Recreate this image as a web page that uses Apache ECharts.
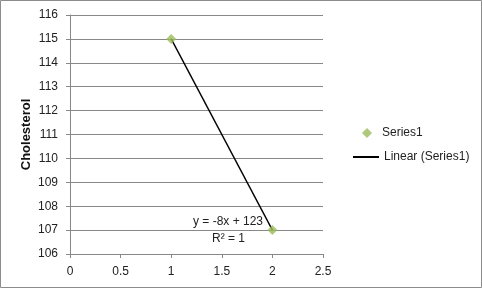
<!DOCTYPE html>
<html><head><meta charset="utf-8">
<script src="https://cdn.jsdelivr.net/npm/echarts@6/dist/echarts.min.js"></script>
<style>html,body{margin:0;padding:0;background:#fff}#c{width:482px;height:288px}</style>
</head><body><div id="c"></div>
<script>
const xValues = [1, 2];
const yValues = [115, 107];
const trendX = [1, 2];
const trendY = [115, 107];
const equationText = 'y = -8x + 123';
const r2Text = 'R² = 1';

const chart = echarts.init(document.getElementById('c'), null, {renderer: 'canvas'});
const font = 'Liberation Sans, Arial, sans-serif';
const legendText = {fontSize: 12, color: '#222', fontFamily: font};
chart.setOption({
  animation: false,
  backgroundColor: '#fff',
  grid: {left: 70, right: 159, top: 15, bottom: 34},
  xAxis: {
    type: 'value', min: 0, max: 2.5, interval: 0.5,
    axisLine: {show: true, lineStyle: {color: '#888', width: 1}},
    axisTick: {show: true, inside: false, length: 4, lineStyle: {color: '#888'}},
    axisLabel: {color: '#222', fontSize: 12, fontFamily: font, margin: 12},
    splitLine: {show: false}
  },
  yAxis: {
    type: 'value', min: 106, max: 116, interval: 1,
    name: 'Cholesterol', nameLocation: 'middle', nameGap: 37, nameMoveOverlap: false,
    nameTextStyle: {fontSize: 13, fontWeight: 'bold', color: '#111', fontFamily: font},
    axisLine: {show: true, lineStyle: {color: '#888', width: 1}},
    axisTick: {show: true, length: 4, lineStyle: {color: '#888'}},
    axisLabel: {color: '#222', fontSize: 12, fontFamily: font, margin: 12},
    splitLine: {show: true, lineStyle: {color: '#888', width: 1}}
  },
  legend: [
    {
      left: 362, top: 127, padding: 0, itemWidth: 10, itemHeight: 10, itemGap: 0,
      textStyle: Object.assign({}, legendText, {padding: [0, 0, 0, 5]}),
      data: [{name: 'Series1', icon: 'diamond'}]
    },
    {
      left: 353, top: 151, padding: 0, itemWidth: 26, itemHeight: 2, itemGap: 0,
      textStyle: legendText,
      data: [{name: 'Linear (Series1)', icon: 'rect'}]
    }
  ],
  series: [
    {
      name: 'Linear (Series1)', type: 'line', symbol: 'none', z: 2,
      lineStyle: {color: '#000', width: 1.4},
      itemStyle: {color: '#000'},
      data: trendX.map((x, i) => [x, trendY[i]])
    },
    {
      name: 'Series1', type: 'scatter', symbol: 'diamond', symbolSize: 10, z: 3,
      itemStyle: {color: '#9BBB59'},
      data: xValues.map((x, i) => [x, yValues[i]])
    }
  ],
  graphic: [
    {type: 'rect', shape: {x: 0.5, y: 0.5, width: 481, height: 287}, style: {fill: 'none', stroke: '#8c8c8c', lineWidth: 1}, silent: true},
    {type: 'text', left: 193, top: 216, style: {text: equationText, fontSize: 12, fill: '#222', fontFamily: font}},
    {type: 'text', left: 212, top: 233, style: {text: r2Text, fontSize: 12, fill: '#222', fontFamily: font}}
  ]
});
</script></body></html>
